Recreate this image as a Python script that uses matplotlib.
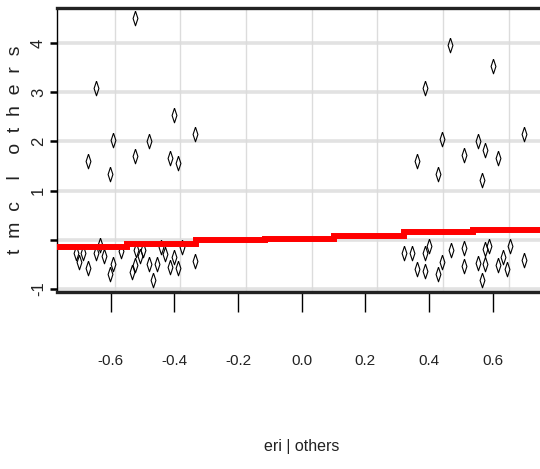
import matplotlib
matplotlib.use('Agg')
import matplotlib.pyplot as plt

# partial residuals: eri | others vs tmc | others
eri = [-0.538, -0.655, -0.680, -0.614, -0.604, -0.538, -0.495, -0.430, -0.420, -0.407, -0.354,
       -0.717, -0.707, -0.697, -0.680, -0.655, -0.644, -0.631, -0.614, -0.605, -0.580, -0.548,
       -0.538, -0.534, -0.523, -0.514, -0.495, -0.484, -0.470, -0.460, -0.447, -0.430, -0.420,
       -0.408, -0.395, -0.355,
       0.422, 0.553, 0.344, 0.397, 0.321, 0.384, 0.463, 0.505, 0.528, 0.518, 0.568, 0.647,
       0.281, 0.304, 0.321, 0.344, 0.345, 0.356, 0.384, 0.397, 0.423, 0.463, 0.463, 0.505,
       0.518, 0.528, 0.528, 0.541, 0.568, 0.581, 0.594, 0.604, 0.647]
tmc = [4.51, 3.09, 1.61, 1.34, 2.03, 1.71, 2.00, 1.66, 2.54, 1.56, 2.15,
       -0.28, -0.45, -0.28, -0.59, -0.27, -0.11, -0.34, -0.71, -0.50, -0.24, -0.66,
       -0.52, -0.21, -0.34, -0.21, -0.49, -0.83, -0.50, -0.15, -0.30, -0.56, -0.35,
       -0.58, -0.16, -0.43,
       3.97, 3.53, 3.09, 2.05, 1.60, 1.34, 1.72, 2.00, 1.83, 1.21, 1.66, 2.15,
       -0.27, -0.27, -0.60, -0.27, -0.65, -0.14, -0.70, -0.45, -0.21, -0.18, -0.55, -0.48,
       -0.82, -0.19, -0.50, -0.14, -0.53, -0.35, -0.60, -0.14, -0.41]

# binned fit (step line)
step_edges = [-0.80, -0.563, -0.353, -0.142, 0.069, 0.280, 0.490, 0.75]
step_levels = [-0.147, -0.098, -0.02, 0.016, 0.065, 0.147, 0.194]

xticks = [-0.6, -0.4, -0.2, 0.0, 0.2, 0.4, 0.6]
yticks = [-1, 0, 1, 2, 3, 4]
ytick_labels = ['-1', '', '1', '2', '3', '4']

fig = plt.figure(figsize=(5.4, 4.69), dpi=100)
ax = fig.add_axes([0.1056, 0.378, 0.8944, 0.605])

ax.set_xlim(-0.775, 0.695)
ax.set_ylim(-1.065, 4.724)

# grid
for y in yticks:
    ax.axhline(y, color='#e2e2e2', lw=2.6, zorder=0)
for x in xticks:
    ax.axvline(x, color='#dcdcdc', lw=1.0, zorder=0)

diamond = [(0, 1), (0.33, 0), (0, -1), (-0.33, 0), (0, 1)]
ax.plot(eri, tmc, linestyle='none', marker=diamond, ms=10.5,
        mfc='none', mec='black', mew=0.8, zorder=3)

ax.stairs(step_levels, step_edges, color='#ff0000', lw=4.3, zorder=4, baseline=None)

for side in ['top', 'bottom']:
    ax.spines[side].set_linewidth(2.4)
    ax.spines[side].set_color('#222222')
ax.spines['left'].set_linewidth(1.0)
ax.spines['right'].set_visible(False)

ax.set_yticks(yticks)
ax.set_yticklabels(ytick_labels, rotation=90, va='center', fontsize=12,
                   family=['Liberation Sans', 'DejaVu Sans'], color='#222222')
ax.tick_params(axis='y', length=5, width=1.8, pad=3)
ax.set_xticks([])

# tick labels sit on a slightly different scale than the panel grid
sec = ax.secondary_xaxis('bottom', functions=(lambda x: (x + 0.0304) / 0.9696,
                                               lambda v: 0.9696 * v - 0.0304))
sec.set_xticks(xticks)
sec.set_xticklabels(['%.1f' % v for v in xticks], fontsize=11,
                    family=['Liberation Sans Narrow', 'Liberation Sans'], color='#222222')
sec.tick_params(axis='x', length=14.5, width=1.0, pad=30)
sec.spines['bottom'].set_visible(False)

fig.text(0.558, 0.047, 'eri | others', ha='center', va='center', fontsize=11.5,
         family=['Liberation Sans Narrow', 'Liberation Sans'], color='#222222')
fig.text(0.028, 0.68, 't  m  c    l    o  t  h  e  r  s', rotation=90, ha='center', va='center',
         fontsize=14, family=['Liberation Sans', 'DejaVu Sans'], color='#222222')

fig.savefig('out.png', dpi=100)
